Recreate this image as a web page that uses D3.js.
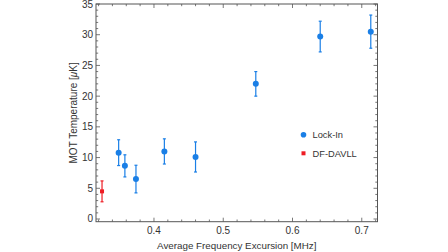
<!DOCTYPE html>
<html>
<head>
<meta charset="utf-8">
<script src="https://cdn.jsdelivr.net/npm/d3@7"></script>
<style>
  body { margin: 0; background: #fff; }
  text { font-family: "Liberation Sans", Arial, sans-serif; }
</style>
</head>
<body>
<div id="chart"></div>
<script>
// Lock-In data (freq excursion in MHz, temperature uK, error uK)
const lockX = [0.349, 0.358, 0.374, 0.415, 0.460, 0.547, 0.640, 0.713];
const lockY = [10.8, 8.65, 6.5, 11.0, 10.1, 22.0, 29.7, 30.5];
const lockErr = [2.1, 1.8, 2.25, 2.05, 2.45, 2.0, 2.5, 2.7];
// DF-DAVLL
const davllX = [0.325];
const davllY = [4.5];
const davllErr = [1.7];

const xTicks = [0.4, 0.5, 0.6, 0.7];
const yTicks = [0, 5, 10, 15, 20, 25, 30, 35];
const legendNames = ["Lock-In", "DF-DAVLL"];

const W = 448, H = 252;
const pLeft = 96, pRight = 377.5, pTop = 4, pBottom = 221.7;
const blue = "#1a7fe6", red = "#ee1c24";
const axisCol = "#555", textCol = "#333";

const x = d3.scaleLinear().domain([0.3163, 0.7227]).range([pLeft, pRight]);
const y = d3.scaleLinear().domain([-0.44, 35]).range([pBottom, pTop]);

const svg = d3.select("#chart").append("svg")
    .attr("width", W).attr("height", H);

// frame
svg.append("rect")
    .attr("x", pLeft).attr("y", pTop)
    .attr("width", pRight - pLeft).attr("height", pBottom - pTop)
    .attr("fill", "none").attr("stroke", axisCol).attr("stroke-width", 1);

// ticks (inside, all four sides)
const xMinor = d3.range(0.32, 0.722, 0.02).filter(v => !xTicks.some(t => Math.abs(t - v) < 1e-6));
const yMinor = d3.range(0, 35.01, 1).filter(v => v % 5 != 0);
const g = svg.append("g").attr("stroke", axisCol).attr("stroke-width", 0.8);
function tickX(v, len) {
    g.append("line").attr("x1", x(v)).attr("x2", x(v)).attr("y1", pBottom).attr("y2", pBottom - len);
    g.append("line").attr("x1", x(v)).attr("x2", x(v)).attr("y1", pTop).attr("y2", pTop + len);
}
function tickY(v, len) {
    g.append("line").attr("y1", y(v)).attr("y2", y(v)).attr("x1", pLeft).attr("x2", pLeft + len);
    g.append("line").attr("y1", y(v)).attr("y2", y(v)).attr("x1", pRight).attr("x2", pRight - len);
}
xTicks.forEach(v => tickX(v, 4));
xMinor.forEach(v => tickX(v, 2.2));
yTicks.forEach(v => tickY(v, 4));
yMinor.forEach(v => tickY(v, 2.2));

// tick labels
svg.selectAll(".xl").data(xTicks).enter().append("text")
    .attr("x", d => x(d)).attr("y", pBottom + 12.5)
    .attr("text-anchor", "middle").attr("font-size", 10).attr("fill", textCol)
    .text(d => d3.format(".1f")(d));
svg.selectAll(".yl").data(yTicks).enter().append("text")
    .attr("x", pLeft - 3).attr("y", d => y(d) + 3.5)
    .attr("text-anchor", "end").attr("font-size", 10).attr("fill", textCol)
    .text(d => d);

// axis titles
svg.append("text")
    .attr("x", (pLeft + pRight) / 2).attr("y", 249)
    .attr("text-anchor", "middle").attr("font-size", 9.8).attr("fill", textCol)
    .text("Average Frequency Excursion [MHz]");
const yl = svg.append("text")
    .attr("transform", "translate(77," + ((pTop + pBottom) / 2) + ") rotate(-90)")
    .attr("text-anchor", "middle").attr("font-size", 10).attr("fill", textCol);
yl.append("tspan").text("MOT Temperature [");
yl.append("tspan").attr("font-style", "italic").text("μ");
yl.append("tspan").text("K]");

// error bars
function errBars(xs, ys, es, col) {
    const eg = svg.append("g").attr("stroke", col).attr("stroke-width", 1.2);
    xs.forEach((xv, i) => {
        const x0 = x(xv), y1 = y(ys[i] + es[i]), y2 = y(ys[i] - es[i]);
        eg.append("line").attr("x1", x0).attr("x2", x0).attr("y1", y1).attr("y2", y2);
        eg.append("line").attr("x1", x0 - 1.5).attr("x2", x0 + 1.5).attr("y1", y1).attr("y2", y1);
        eg.append("line").attr("x1", x0 - 1.5).attr("x2", x0 + 1.5).attr("y1", y2).attr("y2", y2);
    });
}
errBars(lockX, lockY, lockErr, blue);
errBars(davllX, davllY, davllErr, red);

svg.selectAll(".lp").data(lockX).enter().append("circle")
    .attr("cx", d => x(d)).attr("cy", (d, i) => y(lockY[i])).attr("r", 3)
    .attr("fill", blue);
svg.selectAll(".dp").data(davllX).enter().append("rect")
    .attr("x", d => x(d) - 2).attr("y", (d, i) => y(davllY[i]) - 2)
    .attr("width", 4).attr("height", 4).attr("fill", red);

// legend
const lg = svg.append("g");
lg.append("circle").attr("cx", 303.5).attr("cy", 134.7).attr("r", 2.8).attr("fill", blue);
lg.append("rect").attr("x", 301.5).attr("y", 151.3).attr("width", 4).attr("height", 4).attr("fill", red);
legendNames.forEach((n, i) => {
    lg.append("text").attr("x", 312.5).attr("y", 138 + i * 19.3)
        .attr("font-size", 9.3).attr("fill", textCol).text(n);
});
</script>
</body>
</html>
